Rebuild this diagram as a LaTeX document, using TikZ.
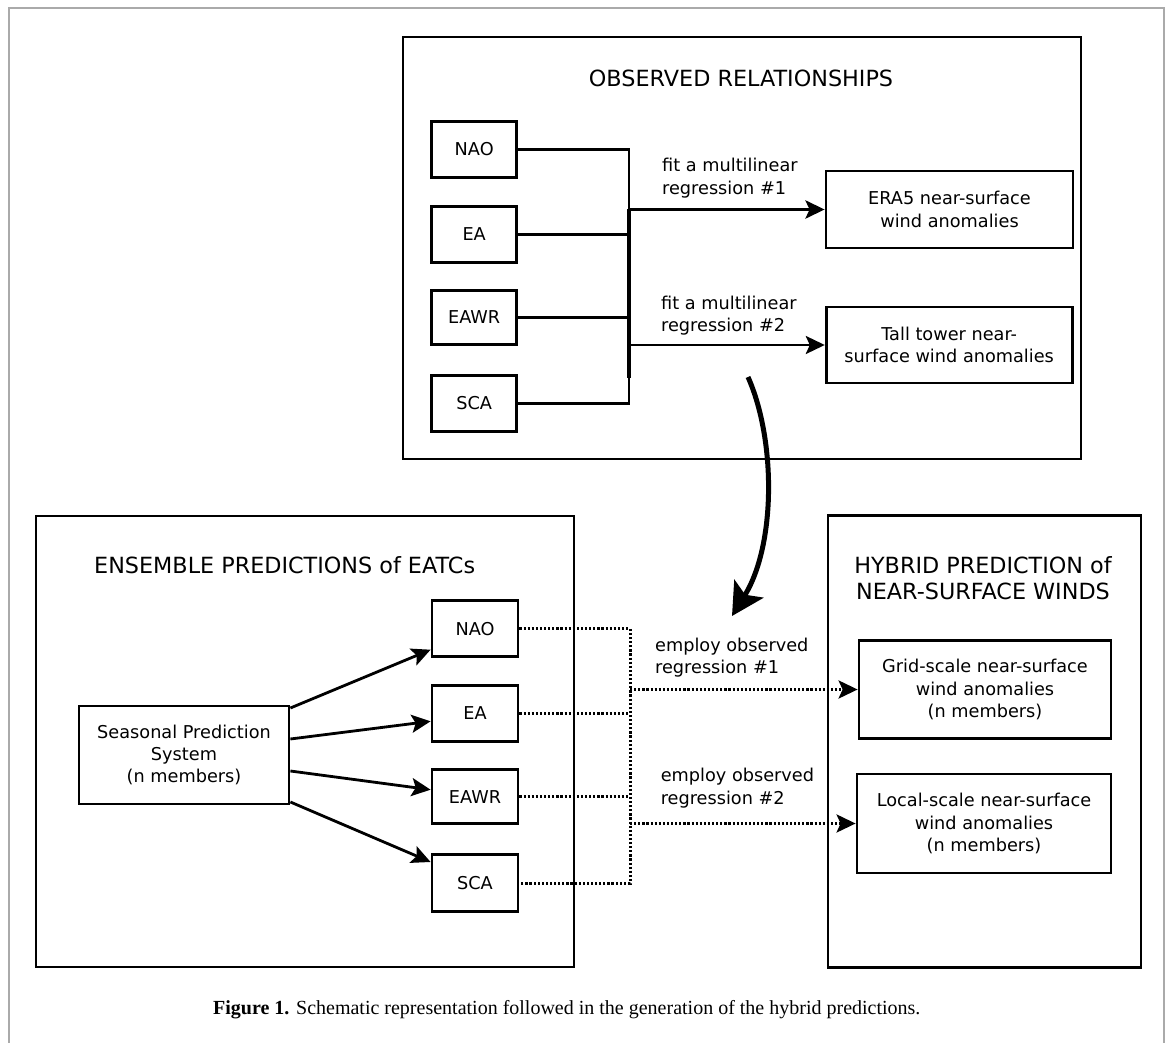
\documentclass[tikz,border=0pt]{standalone}
\usepackage{fontspec}
\setmainfont{DejaVu Sans}
\newfontfamily\capfont{Liberation Serif}
\usetikzlibrary{arrows.meta,calc}
\definecolor{framegray}{RGB}{170,170,170}
\begin{document}
\begin{tikzpicture}[x=1pt,y=-1pt,
  panel/.style={draw, line width=2.8pt, inner sep=0pt},
  box/.style={draw, line width=2.8pt, inner sep=0pt, align=center,
    font=\fontsize{17.7}{22.4}\selectfont},
  lab/.style={inner sep=0pt, align=left, font=\fontsize{17.7}{22.4}\selectfont},
  ttl/.style={inner sep=0pt, align=center, font=\fontsize{22.3}{26}\selectfont},
  conn/.style={line width=2.8pt},
  tipA/.style={-{Stealth[length=19pt,width=18pt,inset=4pt]}},
  dotline/.style={line width=3pt, dash pattern=on 2.2pt off 1.9pt},
]
\useasboundingbox (0,0) rectangle (1168,1043);
% outer frame
\draw[framegray, line width=1.6pt] (9,1043) -- (9,8) -- (1164,8) -- (1164,1043);

% ---------- panels ----------
\node[panel, minimum width=678pt, minimum height=422pt] (obs) at (742,248) {};
\node[panel, minimum width=538pt, minimum height=451pt] (ens) at (305,741.5) {};
\node[panel, minimum width=313pt, minimum height=452pt] (hyb) at (984.5,741.5) {};

\node[ttl, anchor=base] (t1) at (741,86.7) {OBSERVED RELATIONSHIPS};
\node[ttl, anchor=base west] (t2) at (94,573.3) {ENSEMBLE PREDICTIONS of EATCs};
\node[ttl, anchor=north] (t3) at (983,556.4) {HYBRID PREDICTION of\\NEAR-SURFACE WINDS};

% ---------- observed relationships ----------
\node[box, minimum width=85pt, minimum height=56pt] (nao1) at (474.2,149.3) {NAO};
\node[box, minimum width=85pt, minimum height=56pt] (ea1) at (474.2,234.2) {EA};
\node[box, minimum width=85pt, minimum height=54pt] (eawr1) at (474.2,317.3) {EAWR};
\node[box, minimum width=85pt, minimum height=56pt] (sca1) at (474.2,403.3) {SCA};

\node[box, minimum width=247pt, minimum height=77pt] (era) at (949.5,209.5) {ERA5 near-surface\\wind anomalies};
\node[box, minimum width=246pt, minimum height=76pt] (tall) at (949.2,345) {Tall tower near-\\surface wind anomalies};

\coordinate (j1) at (629,0);
\draw[conn] (nao1.east) -- (nao1.east -| j1) -- (sca1.east -| j1) -- (sca1.east);
\draw[conn] (ea1.east) -- (ea1.east -| j1);
\draw[conn] (eawr1.east) -- (eawr1.east -| j1);
\draw[line width=3.6pt] ($(era.west -| j1)$) -- ($(sca1.east -| j1)+(0,-25)$);
\draw[line width=3.8pt, tipA] (era.west -| j1) -- (era.west);
\draw[conn, tipA] (tall.west -| j1) -- (tall.west);

\node[lab, anchor=west] (l1) at (662,178.3) {fit a multilinear\\regression \#1};
\node[lab, anchor=west] (l2) at (661,315.9) {fit a multilinear\\regression \#2};

% ---------- ensemble predictions ----------
\node[box, minimum width=210pt, minimum height=98pt] (sps) at (184,755) {Seasonal Prediction\\System\\(n members)};
\node[box, minimum width=86pt, minimum height=56pt] (nao2) at (475,628.7) {NAO};
\node[box, minimum width=86pt, minimum height=56pt] (ea2) at (475,713.3) {EA};
\node[box, minimum width=86pt, minimum height=54pt] (eawr2) at (475,796.7) {EAWR};
\node[box, minimum width=86pt, minimum height=57pt] (sca2) at (475,883) {SCA};

\draw[conn, tipA] ([yshift=47pt]sps.east) -- ([yshift=-21pt]nao2.west);
\draw[conn, tipA] ([yshift=16pt]sps.east) -- ([yshift=-8pt]ea2.west);
\draw[conn, tipA] ([yshift=-16pt]sps.east) -- ([yshift=7pt]eawr2.west);
\draw[conn, tipA] ([yshift=-47pt]sps.east) -- ([yshift=21pt]sca2.west);

% ---------- hybrid prediction ----------
\node[box, minimum width=252pt, minimum height=98pt] (grid) at (985,689.5) {Grid-scale near-surface\\wind anomalies\\(n members)};
\node[box, minimum width=254pt, minimum height=99pt] (local) at (984,823.5) {Local-scale near-surface\\wind anomalies\\(n members)};

\coordinate (j2) at (630,0);
\draw[dotline] (nao2.east) -- (nao2.east -| j2) -- (sca2.east -| j2) -- (sca2.east);
\draw[dotline] (ea2.east) -- (ea2.east -| j2);
\draw[dotline] (eawr2.east) -- (eawr2.east -| j2);
\draw[dotline, tipA] (grid.west -| j2) -- (grid.west);
\draw[dotline, tipA] (local.west -| j2) -- (local.west);

\node[lab, anchor=west] (l3) at (655,657.8) {employ observed\\regression \#1};
\node[lab, anchor=west] (l4) at (660.6,788.3) {employ observed\\regression \#2};

% ---------- curved arrow ----------
\coordinate (cs) at (748,377);
\coordinate (ce) at (732,616);
\draw[line width=5pt, -{Stealth[length=32pt,width=34pt,inset=7pt]}] (cs) .. controls (776,440) and (776,545) .. (ce);

% ---------- caption ----------
\node[inner sep=0pt, anchor=base west, font=\capfont\fontsize{20}{24}\selectfont] (cap) at (213,1014)
  {\textbf{Figure 1.} Schematic representation followed in the generation of the hybrid predictions.};
\end{tikzpicture}
\end{document}
